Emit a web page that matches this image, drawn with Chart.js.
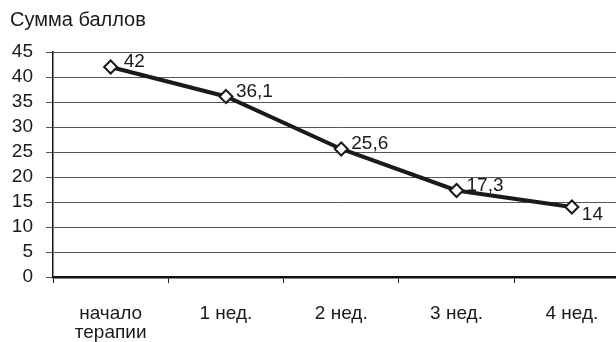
<!DOCTYPE html>
<html>
<head>
<meta charset="utf-8">
<script src="https://cdn.jsdelivr.net/npm/chart.js@4/dist/chart.umd.min.js"></script>
<style>
  html, body { margin: 0; padding: 0; background: #fff; overflow: hidden; }
  /* the plot runs slightly past the right edge of the frame */
  #wrap { width: 616px; height: 342px; overflow: hidden; }
  #c { display: block; }
</style>
</head>
<body>
<div id="wrap"><canvas id="c" width="638" height="342" style="width:638px;height:342px"></canvas></div>
<script>
// Categories (time points) and scores
const categories = [["начало", "терапии"], "1 нед.", "2 нед.", "3 нед.", "4 нед."];
const scores = [42, 36.1, 25.6, 17.3, 14];
const yTicks = [0, 5, 10, 15, 20, 25, 30, 35, 40, 45];
const yTitle = "Сумма баллов";

const FONT = "'Liberation Sans', Arial, sans-serif";
const FS = 19;

const fmt = v => String(v).replace('.', ',');

// Value labels beside each marker; the last one sits below-right
const valueLabels = {
  id: 'valueLabels',
  afterDatasetsDraw(chart) {
    const ctx = chart.ctx;
    const meta = chart.getDatasetMeta(0);
    ctx.save();
    ctx.font = FS + 'px ' + FONT;
    ctx.fillStyle = '#1a1a1a';
    ctx.textAlign = 'left';
    ctx.textBaseline = 'middle';
    meta.data.forEach((pt, i) => {
      const last = i === meta.data.length - 1;
      const dy = last ? 8 : -5;
      const dx = i === 0 ? 13 : 10;
      ctx.fillText(fmt(scores[i]), pt.x + dx, pt.y + dy);
    });
    ctx.restore();
  }
};

// Axis caption above the value axis
const axisCaption = {
  id: 'axisCaption',
  afterDraw(chart) {
    const ctx = chart.ctx;
    ctx.save();
    ctx.font = '20px ' + FONT;
    ctx.fillStyle = '#1a1a1a';
    ctx.textAlign = 'left';
    ctx.textBaseline = 'middle';
    ctx.fillText(yTitle, 10, 20);
    ctx.restore();
  }
};

new Chart(document.getElementById('c'), {
  type: 'line',
  data: {
    labels: categories,
    datasets: [{
      data: scores,
      borderColor: '#1a1a1a',
      borderWidth: 4,
      tension: 0,
      pointStyle: 'rectRot',
      pointRadius: 6.5,
      pointBorderWidth: 2,
      pointBackgroundColor: '#ffffff',
      pointBorderColor: '#1a1a1a',
      fill: false
    }]
  },
  options: {
    responsive: false,
    animation: false,
    layout: { padding: { top: 52, left: 0, right: 0, bottom: 0 } },
    plugins: { legend: { display: false }, tooltip: { enabled: false } },
    scales: {
      x: {
        type: 'category',
        offset: true,
        grid: {
          offset: true,
          drawOnChartArea: false,
          drawTicks: true,
          tickLength: 6,
          color: '#222',
          lineWidth: 1
        },
        border: { color: '#111', width: 2.5 },
        ticks: {
          color: '#1a1a1a',
          font: { family: FONT, size: FS, lineHeight: 1.0 },
          padding: 21,
          maxRotation: 0,
          autoSkip: false
        },
        afterFit(scale) { scale.height = 342 - 277; }
      },
      y: {
        min: 0,
        max: 45,
        afterBuildTicks(scale) { scale.ticks = yTicks.map(v => ({ value: v })); },
        grid: {
          color: '#555',
          lineWidth: 1,
          tickLength: 7,
          drawTicks: true
        },
        border: { color: '#111', width: 1.5 },
        ticks: {
          color: '#1a1a1a',
          font: { family: FONT, size: FS },
          padding: 13,
          autoSkip: false
        },
        afterFit(scale) { scale.width = 53; }
      }
    }
  },
  plugins: [valueLabels, axisCaption]
});
</script>
</body>
</html>
